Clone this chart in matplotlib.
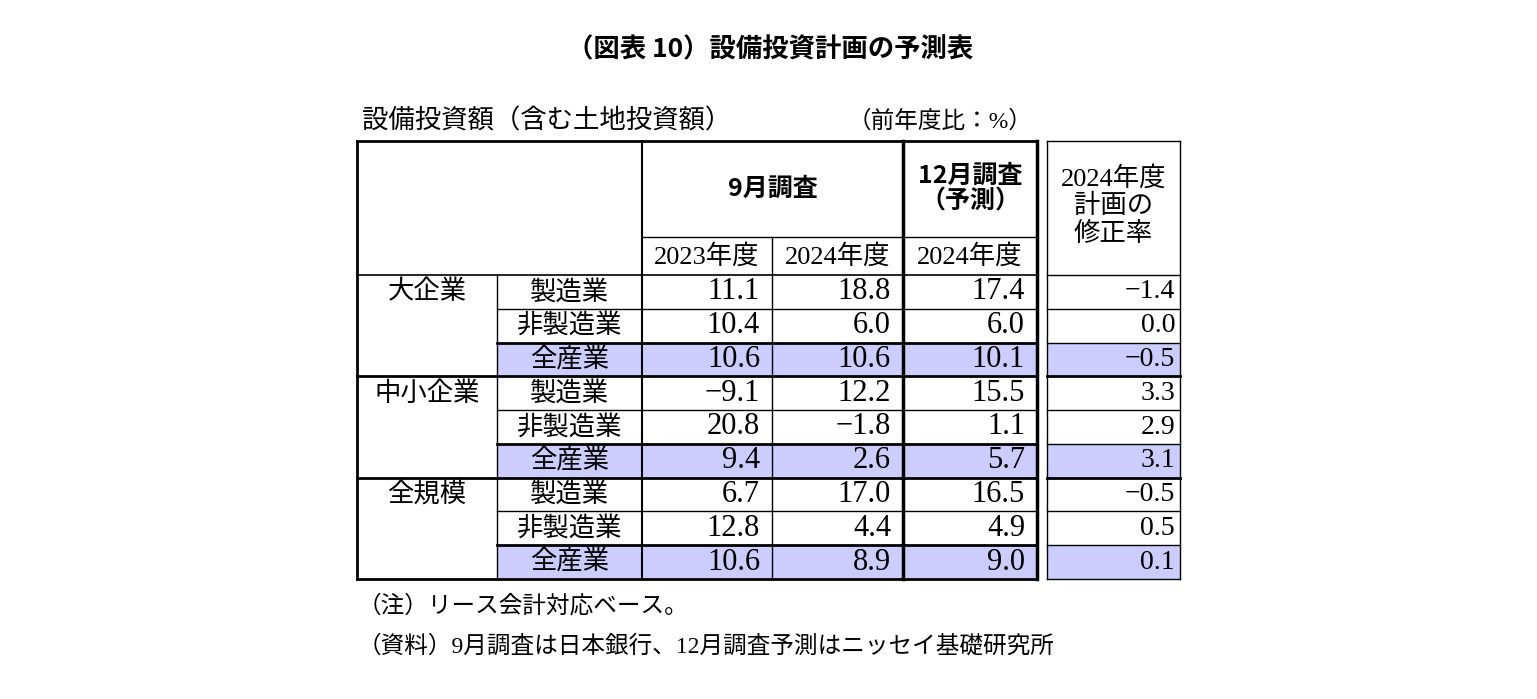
import matplotlib
matplotlib.use("Agg")
import matplotlib.pyplot as plt
from matplotlib.patches import Rectangle

groups = ["大企業", "中小企業", "全規模"]
industries = ["製造業", "非製造業", "全産業"]
sep2023 = [11.1, 10.4, 10.6, -9.1, 20.8, 9.4, 6.7, 12.8, 10.6]
sep2024 = [18.8, 6.0, 10.6, 12.2, -1.8, 2.6, 17.0, 4.4, 8.9]
dec2024 = [17.4, 6.0, 10.1, 15.5, 1.1, 5.7, 16.5, 4.9, 9.0]
revision = [-1.4, 0.0, -0.5, 3.3, 2.9, 3.1, -0.5, 0.5, 0.1]
year_labels = ["2023年度", "2024年度", "2024年度"]

FAM = ["Liberation Serif", "Noto Sans CJK JP"]
SANS = ["Noto Sans CJK JP"]
SHADE = "#CCCCFF"

fig = plt.figure(figsize=(15.37, 6.99), dpi=100)
ax = fig.add_axes([0, 0, 1, 1])
ax.set_xlim(0, 1537); ax.set_ylim(699, 0); ax.axis("off")

cx = [357, 497, 642, 772, 903, 1037]
rx = [1047, 1180]
top, mid, hb = 141, 237, 275
rh = (579 - 275) / 9
rows = [hb + i * rh for i in range(10)]
fs = 19

def line(x0, x1, y0, y1, lw):
    ax.plot([x0, x1], [y0, y1], color="black", lw=lw, solid_capstyle="projecting")

for i in range(9):
    if i % 3 == 2:
        ax.add_patch(Rectangle((cx[1], rows[i]), cx[5] - cx[1], rh, fc=SHADE, ec="none"))
        ax.add_patch(Rectangle((rx[0], rows[i]), rx[1] - rx[0], rh, fc=SHADE, ec="none"))

line(cx[0], cx[5], top, top, 2); line(cx[0], cx[5], rows[9], rows[9], 2)
line(cx[2], cx[5], mid, mid, 1); line(cx[0], cx[5], hb, hb, 1.2)
for i in range(1, 9):
    if i % 3 == 0:
        line(cx[0], cx[5], rows[i], rows[i], 2)
    elif i % 3 == 2:
        line(cx[1], cx[5], rows[i], rows[i], 2)
    else:
        line(cx[1], cx[5], rows[i], rows[i], 1)
line(cx[0], cx[0], top, rows[9], 2)
line(cx[1], cx[1], hb, rows[9], 1)
line(cx[2], cx[2], top, rows[9], 1.5)
line(cx[3], cx[3], mid, rows[9], 1)
line(cx[4], cx[4], top, rows[9], 2.5)
line(cx[5], cx[5], top, rows[9], 2.5)
line(rx[0], rx[1], top, top, 1); line(rx[0], rx[1], rows[9], rows[9], 1)
line(rx[0], rx[0], top, rows[9], 1); line(rx[1], rx[1], top, rows[9], 1)
for i in range(0, 9):
    line(rx[0], rx[1], rows[i], rows[i], 2 if i in (3, 6) else 1)

ax.text(770, 50, "（図表 10）設備投資計画の予測表", ha="center", va="center", fontsize=19, fontweight="bold", family=SANS)
ax.text(362, 121, "設備投資額（含む土地投資額）", ha="left", va="center", fontsize=fs, family=FAM)
ax.text(1032, 121, "（前年度比：%）", ha="right", va="center", fontsize=fs - 2, family=FAM)
ax.text((cx[2] + cx[4]) / 2, (top + mid) / 2, "9月調査", ha="center", va="center", fontsize=18, fontweight="bold", family=SANS)
ax.text((cx[4] + cx[5]) / 2, (top + mid) / 2, "12月調査\n（予測）", ha="center", va="center", fontsize=18, fontweight="bold", family=SANS, linespacing=1.1)
ax.text((rx[0] + rx[1]) / 2, (top + hb) / 2 - 2, "2024年度\n計画の\n修正率", ha="center", va="center", fontsize=fs, family=FAM, linespacing=1.2)
for j, lab in enumerate(year_labels):
    ax.text((cx[2 + j] + cx[3 + j]) / 2, (mid + hb) / 2, lab, ha="center", va="center", fontsize=fs, family=FAM)
for g, name in enumerate(groups):
    ax.text((cx[0] + cx[1]) / 2, rows[3 * g] + rh / 2, name, ha="center", va="center", fontsize=fs, family=FAM)
for i in range(9):
    yc = rows[i] + rh / 2
    ax.text((cx[1] + cx[2]) / 2, yc, industries[i % 3], ha="center", va="center", fontsize=fs, family=FAM)
    for j, arr in enumerate([sep2023, sep2024, dec2024]):
        ax.text(cx[3 + j] - 12, yc, f"{arr[i]:.1f}".replace("-", "−"), ha="right", va="center", fontsize=22, family=FAM)
    ax.text(rx[1] - 5, yc, f"{revision[i]:.1f}".replace("-", "−"), ha="right", va="center", fontsize=20, family=FAM)

ax.text(358, 606, "（注）リース会計対応ベース。", ha="left", va="center", fontsize=17, family=FAM)
ax.text(358, 646, "（資料）9月調査は日本銀行、12月調査予測はニッセイ基礎研究所", ha="left", va="center", fontsize=17, family=FAM)

fig.savefig("out.png", dpi=100, facecolor="white")
